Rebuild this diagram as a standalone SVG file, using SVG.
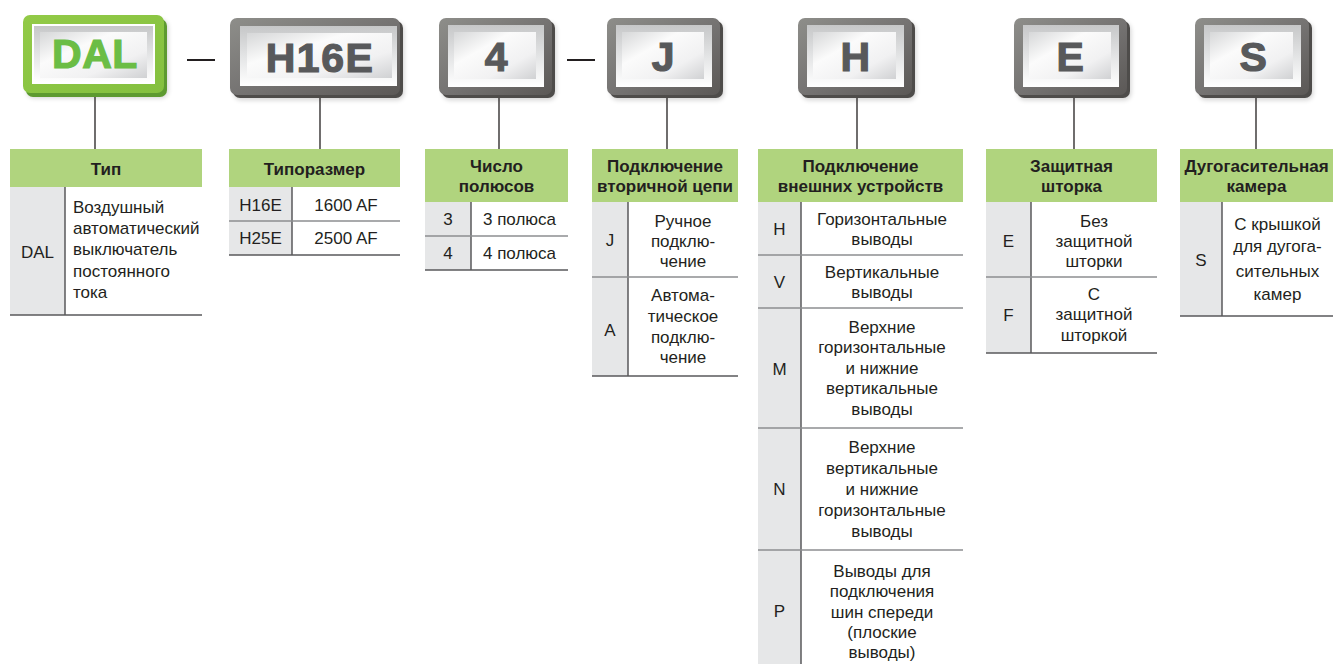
<svg xmlns="http://www.w3.org/2000/svg" width="1333" height="664" viewBox="0 0 1333 664">
<defs>
<style>
.bx{font-family:"Liberation Sans",Arial,sans-serif;font-weight:bold;font-size:41px;text-anchor:middle;fill:#58595b;stroke:#58595b;stroke-width:1.2;letter-spacing:1.5px}
.hd{font-family:"Liberation Sans",Arial,sans-serif;font-weight:bold;font-size:17px;fill:#231f20;text-anchor:middle}
.tx{font-family:"Liberation Sans",Arial,sans-serif;font-size:17px;fill:#231f20}
.c{text-anchor:middle}
.hbg{fill:#b0d47e}
.lbg{fill:#e6e7e8}
.sep{stroke:#8d8e90;stroke-width:1.5;fill:none}
.bot{stroke:#58595b;stroke-width:1.5;fill:none}
.vl{stroke:#58595b;stroke-width:1.5;fill:none}
.con{stroke:#231f20;stroke-width:1.3;fill:none}
.dash{stroke:#231f20;stroke-width:2;fill:none}
</style>
<linearGradient id="gOuter" x1="0" y1="0" x2="1" y2="1">
<stop offset="0" stop-color="#8e8e8a"/><stop offset="0.55" stop-color="#737170"/><stop offset="1" stop-color="#5b5856"/>
</linearGradient>
<linearGradient id="gGreen" x1="0" y1="0" x2="1" y2="1">
<stop offset="0" stop-color="#92ca47"/><stop offset="1" stop-color="#84c03f"/>
</linearGradient>
<linearGradient id="gFrame" x1="0" y1="0" x2="0" y2="1">
<stop offset="0" stop-color="#c6c7c8"/><stop offset="0.5" stop-color="#e3e4e5"/><stop offset="1" stop-color="#ffffff"/>
</linearGradient>
<linearGradient id="gInner" x1="0" y1="0" x2="1" y2="1">
<stop offset="0" stop-color="#d6d7d8"/><stop offset="0.35" stop-color="#fbfbfb"/><stop offset="0.7" stop-color="#f1f1f2"/><stop offset="1" stop-color="#d0d1d3"/>
</linearGradient>
<filter id="blur" x="-20%" y="-20%" width="140%" height="140%"><feGaussianBlur stdDeviation="2.5"/></filter>
</defs>
<rect width="1333" height="664" fill="#ffffff"/>

<g id="box-dal">
<rect x="27" y="20" width="141" height="78" rx="7" fill="#000" opacity="0.18" filter="url(#blur)"/>
<rect x="26" y="19" width="141" height="78" rx="7" fill="#5d9a30"/>
<rect x="23" y="15" width="141" height="78" rx="7" fill="url(#gGreen)"/>
<rect x="32" y="24" width="123" height="60" fill="#ffffff"/>
<rect x="34" y="26" width="119" height="56" fill="url(#gFrame)"/>
<rect x="40" y="32" width="107" height="46" fill="url(#gInner)"/>
<text class="bx" x="95" y="68" style="fill:#6bbd45;stroke:#6bbd45;letter-spacing:0.5px">DAL</text>
</g>

<g id="box-h16e">
<rect x="234" y="23" width="170" height="77" rx="7" fill="#000" opacity="0.18" filter="url(#blur)"/>
<rect x="233" y="21" width="170" height="77" rx="7" fill="#4e4c4a"/>
<rect x="230" y="18" width="170" height="77" rx="7" fill="url(#gOuter)"/>
<rect x="240" y="26" width="157" height="60" fill="url(#gFrame)"/>
<rect x="247" y="33" width="145" height="45" fill="url(#gInner)"/>
<text class="bx" x="320" y="72">H16E</text>
</g>

<g id="box-4">
<rect x="443" y="23" width="113" height="77" rx="7" fill="#000" opacity="0.18" filter="url(#blur)"/>
<rect x="442" y="21" width="113" height="77" rx="7" fill="#4e4c4a"/>
<rect x="439" y="18" width="113" height="77" rx="7" fill="url(#gOuter)"/>
<rect x="448" y="25" width="96" height="62" fill="url(#gFrame)"/>
<rect x="454" y="32" width="82" height="47" fill="url(#gInner)"/>
<text class="bx" x="497" y="71">4</text>
</g>

<g id="box-j">
<rect x="611" y="23" width="113" height="77" rx="7" fill="#000" opacity="0.18" filter="url(#blur)"/>
<rect x="610" y="21" width="113" height="77" rx="7" fill="#4e4c4a"/>
<rect x="607" y="18" width="113" height="77" rx="7" fill="url(#gOuter)"/>
<rect x="616" y="25" width="96" height="62" fill="url(#gFrame)"/>
<rect x="622" y="32" width="82" height="47" fill="url(#gInner)"/>
<text class="bx" x="664" y="71">J</text>
</g>

<g id="box-h">
<rect x="802" y="23" width="114" height="77" rx="7" fill="#000" opacity="0.18" filter="url(#blur)"/>
<rect x="801" y="21" width="114" height="77" rx="7" fill="#4e4c4a"/>
<rect x="798" y="18" width="114" height="77" rx="7" fill="url(#gOuter)"/>
<rect x="807" y="25" width="97" height="62" fill="url(#gFrame)"/>
<rect x="813" y="32" width="83" height="47" fill="url(#gInner)"/>
<text class="bx" x="856" y="71">H</text>
</g>

<g id="box-e">
<rect x="1018" y="23" width="113" height="77" rx="7" fill="#000" opacity="0.18" filter="url(#blur)"/>
<rect x="1017" y="21" width="113" height="77" rx="7" fill="#4e4c4a"/>
<rect x="1014" y="18" width="113" height="77" rx="7" fill="url(#gOuter)"/>
<rect x="1023" y="25" width="96" height="62" fill="url(#gFrame)"/>
<rect x="1029" y="32" width="82" height="47" fill="url(#gInner)"/>
<text class="bx" x="1071" y="71">E</text>
</g>

<g id="box-s">
<rect x="1199" y="23" width="114" height="77" rx="7" fill="#000" opacity="0.18" filter="url(#blur)"/>
<rect x="1198" y="21" width="114" height="77" rx="7" fill="#4e4c4a"/>
<rect x="1195" y="18" width="114" height="77" rx="7" fill="url(#gOuter)"/>
<rect x="1204" y="25" width="97" height="62" fill="url(#gFrame)"/>
<rect x="1210" y="32" width="83" height="47" fill="url(#gInner)"/>
<text class="bx" x="1254" y="71">S</text>
</g>

<g id="connectors">
<line class="dash" x1="187" y1="60" x2="215" y2="60"/>
<line class="dash" x1="567" y1="60" x2="595" y2="60"/>
<line class="con" x1="95" y1="97" x2="95" y2="149"/>
<line class="con" x1="320" y1="98" x2="320" y2="149"/>
<line class="con" x1="499" y1="98" x2="499" y2="149"/>
<line class="con" x1="667" y1="98" x2="667" y2="149"/>
<line class="con" x1="857" y1="98" x2="857" y2="149"/>
<line class="con" x1="1074" y1="98" x2="1074" y2="149"/>
<line class="con" x1="1256" y1="98" x2="1256" y2="149"/>
</g>

<g id="table-type">
<rect class="hbg" x="10" y="149" width="192" height="38"/>
<rect class="lbg" x="10" y="187" width="55" height="128"/>
<line class="vl" x1="65" y1="187" x2="65" y2="315"/>
<line class="bot" x1="10" y1="315" x2="202" y2="315"/>
<text class="hd" x="106" y="175">Тип</text>
<text class="tx c" x="37.5" y="258">DAL</text>
<text class="tx" x="73" y="213">Воздушный</text>
<text class="tx" x="73" y="234">автоматический</text>
<text class="tx" x="73" y="255">выключатель</text>
<text class="tx" x="73" y="277">постоянного</text>
<text class="tx" x="73" y="298">тока</text>
</g>

<g id="table-size">
<rect class="hbg" x="229" y="149" width="171" height="38"/>
<rect class="lbg" x="229" y="187" width="63" height="68"/>
<line class="vl" x1="292" y1="187" x2="292" y2="255"/>
<line class="sep" x1="229" y1="221" x2="400" y2="221"/>
<line class="bot" x1="229" y1="255" x2="400" y2="255"/>
<text class="hd" x="314.5" y="175">Типоразмер</text>
<text class="tx c" x="260.5" y="211">H16E</text>
<text class="tx c" x="346" y="211">1600 AF</text>
<text class="tx c" x="260.5" y="244">H25E</text>
<text class="tx c" x="346" y="244">2500 AF</text>
</g>

<g id="table-poles">
<rect class="hbg" x="425" y="149" width="143" height="53"/>
<rect class="lbg" x="425" y="202" width="46" height="68"/>
<line class="vl" x1="471" y1="202" x2="471" y2="270"/>
<line class="sep" x1="425" y1="236" x2="568" y2="236"/>
<line class="bot" x1="425" y1="270" x2="568" y2="270"/>
<text class="hd" x="496.5" y="172">Число</text>
<text class="hd" x="496.5" y="192">полюсов</text>
<text class="tx c" x="448" y="225">3</text>
<text class="tx c" x="519.5" y="225">3 полюса</text>
<text class="tx c" x="448" y="259">4</text>
<text class="tx c" x="519.5" y="259">4 полюса</text>
</g>

<g id="table-secondary">
<rect class="hbg" x="592" y="149" width="146" height="53"/>
<rect class="lbg" x="592" y="202" width="36" height="174"/>
<line class="vl" x1="628" y1="202" x2="628" y2="376"/>
<line class="sep" x1="592" y1="277" x2="738" y2="277"/>
<line class="bot" x1="592" y1="376" x2="738" y2="376"/>
<text class="hd" x="665" y="172">Подключение</text>
<text class="hd" x="665" y="192">вторичной цепи</text>
<text class="tx c" x="610" y="246">J</text>
<text class="tx c" x="683" y="227">Ручное</text>
<text class="tx c" x="683" y="247">подклю-</text>
<text class="tx c" x="683" y="267">чение</text>
<text class="tx c" x="610" y="336">A</text>
<text class="tx c" x="683" y="301">Автома-</text>
<text class="tx c" x="683" y="322">тическое</text>
<text class="tx c" x="683" y="343">подклю-</text>
<text class="tx c" x="683" y="363">чение</text>
</g>

<g id="table-external">
<rect class="hbg" x="758" y="149" width="205" height="53"/>
<rect class="lbg" x="758" y="202" width="43" height="462"/>
<line class="vl" x1="801" y1="202" x2="801" y2="664"/>
<line class="sep" x1="758" y1="255" x2="963" y2="255"/>
<line class="sep" x1="758" y1="308" x2="963" y2="308"/>
<line class="sep" x1="758" y1="428" x2="963" y2="428"/>
<line class="sep" x1="758" y1="550" x2="963" y2="550"/>
<text class="hd" x="860.5" y="172">Подключение</text>
<text class="hd" x="860.5" y="192">внешних устройств</text>
<text class="tx c" x="779.5" y="235">H</text>
<text class="tx c" x="882" y="225">Горизонтальные</text>
<text class="tx c" x="882" y="245">выводы</text>
<text class="tx c" x="779.5" y="288">V</text>
<text class="tx c" x="882" y="278">Вертикальные</text>
<text class="tx c" x="882" y="298">выводы</text>
<text class="tx c" x="779.5" y="375">M</text>
<text class="tx c" x="882" y="333">Верхние</text>
<text class="tx c" x="882" y="353">горизонтальные</text>
<text class="tx c" x="882" y="374">и нижние</text>
<text class="tx c" x="882" y="394">вертикальные</text>
<text class="tx c" x="882" y="415">выводы</text>
<text class="tx c" x="779.5" y="495">N</text>
<text class="tx c" x="882" y="453">Верхние</text>
<text class="tx c" x="882" y="474">вертикальные</text>
<text class="tx c" x="882" y="495">и нижние</text>
<text class="tx c" x="882" y="516">горизонтальные</text>
<text class="tx c" x="882" y="537">выводы</text>
<text class="tx c" x="779.5" y="617">P</text>
<text class="tx c" x="882" y="577">Выводы для</text>
<text class="tx c" x="882" y="597">подключения</text>
<text class="tx c" x="882" y="618">шин спереди</text>
<text class="tx c" x="882" y="638">(плоские</text>
<text class="tx c" x="882" y="658">выводы)</text>
</g>

<g id="table-shutter">
<rect class="hbg" x="986" y="149" width="171" height="53"/>
<rect class="lbg" x="986" y="202" width="45" height="151"/>
<line class="vl" x1="1031" y1="202" x2="1031" y2="353"/>
<line class="sep" x1="986" y1="277" x2="1157" y2="277"/>
<line class="bot" x1="986" y1="353" x2="1157" y2="353"/>
<text class="hd" x="1071.5" y="172">Защитная</text>
<text class="hd" x="1071.5" y="192">шторка</text>
<text class="tx c" x="1008.5" y="247">E</text>
<text class="tx c" x="1094" y="227">Без</text>
<text class="tx c" x="1094" y="247">защитной</text>
<text class="tx c" x="1094" y="267">шторки</text>
<text class="tx c" x="1008.5" y="321">F</text>
<text class="tx c" x="1094" y="300">С</text>
<text class="tx c" x="1094" y="320">защитной</text>
<text class="tx c" x="1094" y="341">шторкой</text>
</g>

<g id="table-arc">
<rect class="hbg" x="1180" y="149" width="153" height="53"/>
<rect class="lbg" x="1180" y="202" width="42" height="114"/>
<line class="vl" x1="1222" y1="202" x2="1222" y2="316"/>
<line class="bot" x1="1180" y1="316" x2="1333" y2="316"/>
<text class="hd" x="1256.5" y="172">Дугогасительная</text>
<text class="hd" x="1256.5" y="192">камера</text>
<text class="tx c" x="1201" y="266">S</text>
<text class="tx c" x="1277.5" y="230">С крышкой</text>
<text class="tx c" x="1277.5" y="252">для дугога-</text>
<text class="tx c" x="1277.5" y="277">сительных</text>
<text class="tx c" x="1277.5" y="300">камер</text>
</g>
</svg>
